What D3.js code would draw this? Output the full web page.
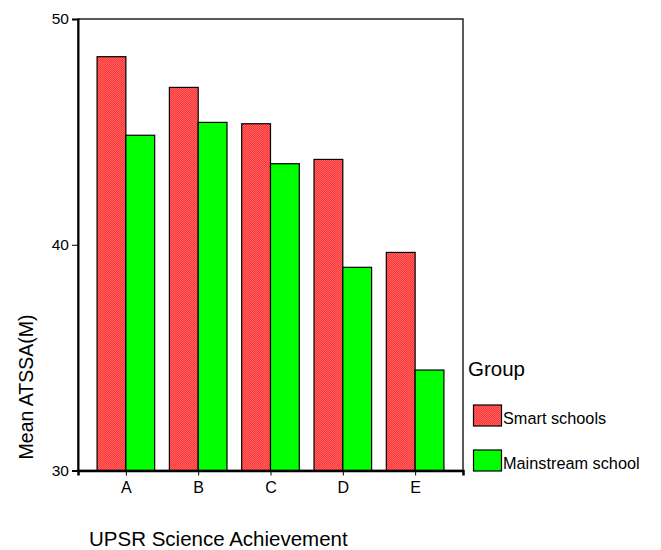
<!DOCTYPE html>
<html><head><meta charset="utf-8">
<script src="https://cdn.jsdelivr.net/npm/d3@7"></script>
<style>body{margin:0;background:#fff}svg{display:block;font-family:"Liberation Sans",Arial,sans-serif}</style>
</head><body><svg id="c" width="661" height="550"></svg>
<script>
const categories = ["A","B","C","D","E"];
const groups = ["Smart schools","Mainstream school"];
const smartValues = [48.33, 46.97, 45.36, 43.78, 39.66];
const mainstreamValues = [44.85, 45.42, 43.59, 39.0, 34.45];
const yTicks = [30, 40, 50];

const svg = d3.select("#c");
const L = 78, R = 463, T = 19, B = 470.5;
const defs = svg.append("defs");
const pat = defs.append("pattern").attr("id","redpat").attr("patternUnits","userSpaceOnUse")
  .attr("width",2).attr("height",2);
pat.append("rect").attr("width",2).attr("height",2).attr("fill","#ff3434").attr("shape-rendering","crispEdges");
pat.append("rect").attr("width",1).attr("height",1).attr("fill","#ff6464").attr("shape-rendering","crispEdges");
pat.append("rect").attr("x",1).attr("y",1).attr("width",1).attr("height",1).attr("fill","#ff6464").attr("shape-rendering","crispEdges");

const x = d3.scalePoint().domain(categories).range([L, R]).padding(0.662);
const y = d3.scaleLinear().domain([30, 50]).range([B, T]);
const bw = 28.8;
const fills = ["url(#redpat)", "#00ff00"];
const series = [smartValues, mainstreamValues];

svg.append("rect").attr("x",L).attr("y",T).attr("width",R-L).attr("height",B-T)
  .attr("fill","none").attr("stroke","#000").attr("stroke-width",1.3);

series.forEach((vals, si) => {
  svg.append("g").selectAll("rect").data(vals).join("rect")
    .attr("x",(d,i)=>x(categories[i]) + (si===0 ? -bw : 0))
    .attr("y",d=>y(d)).attr("width",bw).attr("height",d=>y(30)-y(d))
    .attr("fill",fills[si]).attr("stroke","#000").attr("stroke-width",1.2);
});

const ya = svg.append("g").attr("transform",`translate(${L},0)`)
  .call(d3.axisLeft(y).tickValues(yTicks).tickSize(6).tickPadding(3));
ya.select(".domain").attr("stroke","#000").attr("stroke-width",2);
ya.selectAll("text").attr("font-size",15.5).attr("fill","#000").attr("font-family","Liberation Sans, Arial, sans-serif");
const xa = svg.append("g").attr("transform",`translate(0,${B})`)
  .call(d3.axisBottom(x).tickSize(5).tickPadding(6));
xa.select(".domain").attr("stroke","#000").attr("stroke-width",2.5);
xa.selectAll("text").attr("font-size",16).attr("fill","#000").attr("font-family","Liberation Sans, Arial, sans-serif");

svg.append("text").attr("transform","translate(33,387) rotate(-90)").attr("text-anchor","middle")
  .attr("font-size",19.5).text("Mean ATSSA(M)");
svg.append("text").attr("x",89).attr("y",546).attr("font-size",20.5).text("UPSR Science Achievement");

svg.append("text").attr("x",468).attr("y",376).attr("font-size",20.5).text("Group");
groups.forEach((g,i)=>{
  const yy = 405 + i*45;
  svg.append("rect").attr("x",473.5).attr("y",yy).attr("width",28).attr("height",21)
    .attr("fill",fills[i]).attr("stroke","#000").attr("stroke-width",1.2);
  svg.append("text").attr("x",503).attr("y",yy+18.5).attr("font-size",16.3).text(g);
});
</script></body></html>
